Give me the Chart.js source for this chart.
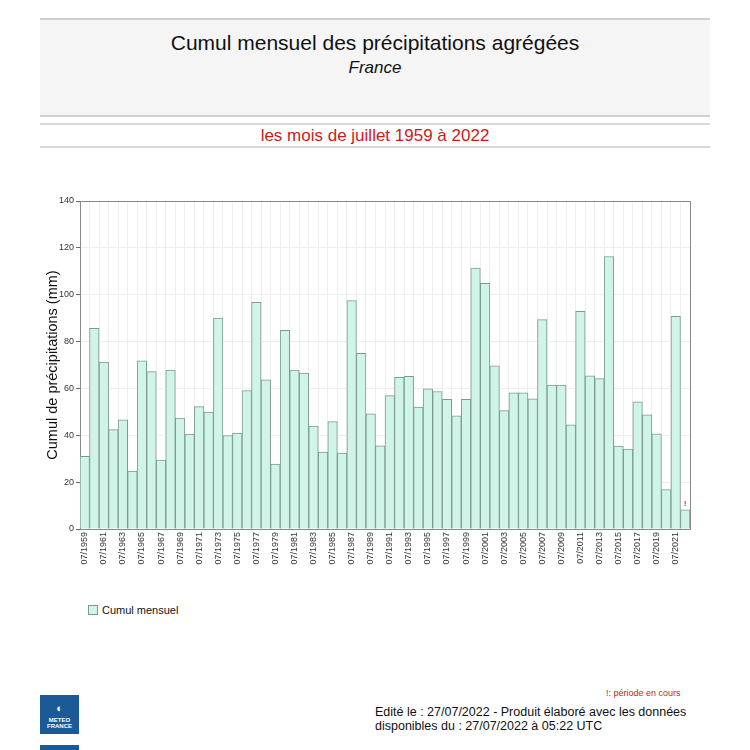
<!DOCTYPE html>
<html>
<head>
<meta charset="utf-8">
<script src="https://cdn.jsdelivr.net/npm/chart.js@4/dist/chart.umd.min.js"></script>
<style>
  body { margin: 0; background: #fff; font-family: "Liberation Sans", Arial, sans-serif; }
  #page { position: relative; width: 750px; height: 750px; overflow: hidden; }
  .abs { position: absolute; }
  #head { left: 40px; top: 18px; width: 670px; height: 95px; background: #f5f5f5;
          border-top: 2px solid #d0d0d0; border-bottom: 2px solid #d0d0d0; }
  #title { left: 0; top: 31px; width: 750px; text-align: center; font-size: 21px; color: #111; }
  #sub { left: 0; top: 58px; width: 750px; text-align: center; font-size: 17px; font-style: italic; color: #111; }
  .rule { left: 40px; width: 670px; height: 0; border-top: 2px solid #d8d8d8; }
  #period { left: 0; top: 126px; width: 750px; text-align: center; font-size: 17px; color: #cc1a1a; }
  #wrap { left: 44px; top: 190px; width: 666px; height: 390px; }
  #legend { left: 88px; top: 604px; font-size: 11px; color: #111; }
  #legend span.box { display: inline-block; width: 8px; height: 8px; background: #d0f5e8;
                     border: 1px solid #7c9a90; margin-right: 4px; vertical-align: -1px; }
  #note { left: 606px; top: 688px; font-size: 9px; color: #cc2222; }
  #edit { left: 375px; top: 705px; font-size: 12.5px; line-height: 14px; color: #111; }
  .logo { left: 40px; width: 39px; height: 39px; background: #1b5a96; color: #fff;
          font-size: 6px; font-weight: bold; text-align: center; line-height: 6px; }
</style>
</head>
<body>
<div id="page">
  <div id="head" class="abs"></div>
  <div id="title" class="abs">Cumul mensuel des précipitations agrégées</div>
  <div id="sub" class="abs">France</div>
  <div class="abs rule" style="top:123px"></div>
  <div id="period" class="abs">les mois de juillet 1959 à 2022</div>
  <div class="abs rule" style="top:146px"></div>

  <div id="wrap" class="abs"><canvas id="precipChart"></canvas></div>

  <div id="legend" class="abs"><span class="box"></span>Cumul mensuel</div>
  <div id="note" class="abs">!: période en cours</div>
  <div id="edit" class="abs">Edité le : 27/07/2022 - Produit élaboré avec les données<br>disponibles du : 27/07/2022 à 05:22 UTC</div>
  <div class="abs logo" style="top:695px"><div style="margin-top:8px;font-size:11px;line-height:11px">&#9680;</div><div style="margin-top:3px">METEO</div><div>FRANCE</div></div>
  <div class="abs logo" style="top:745px"></div>
</div>

<script>
// années 1959 -> 2022, mois de juillet
var years = [];
for (var y = 1959; y <= 2022; y++) {
    years.push("07/" + y);
}

// cumul mensuel (mm)
var cumulMensuel = [
    31.0, 85.7, 71.2, 42.4, 46.6, 24.7, 71.8, 67.2, 29.4, 67.8,
    47.3, 40.5, 52.2, 49.9, 90.0, 39.9, 40.9, 59.1, 96.8, 63.7,
    27.7, 84.8, 67.8, 66.5, 43.9, 32.8, 45.8, 32.4, 97.5, 75.0,
    49.2, 35.5, 56.9, 64.7, 65.2, 52.0, 59.8, 58.7, 55.4, 48.3,
    55.4, 111.4, 104.9, 69.6, 50.5, 58.1, 58.1, 55.6, 89.4, 61.4,
    61.4, 44.5, 92.9, 65.4, 64.2, 116.3, 35.4, 34.1, 54.3, 48.7,
    40.6, 16.8, 90.8, 8.2
];

// dernière période incomplète
var enCours = [63];

var yMax = 140;
var yStep = 20;

var frameAndMark = {
    id: "frameAndMark",
    afterDatasetsDraw: function(chart) {
        var ctx = chart.ctx;
        var a = chart.chartArea;
        ctx.save();
        ctx.strokeStyle = "#8a8a8a";
        ctx.lineWidth = 1;
        ctx.beginPath();
        ctx.moveTo(a.left, a.top + 0.5);
        ctx.lineTo(a.right + 0.5, a.top + 0.5);
        ctx.lineTo(a.right + 0.5, a.bottom);
        ctx.stroke();
        ctx.fillStyle = "#cc2222";
        ctx.font = "bold 7px 'Liberation Sans', Arial";
        ctx.textAlign = "center";
        ctx.textBaseline = "bottom";
        enCours.forEach(function(i) {
            var x = chart.scales.x.getPixelForValue(i);
            var yy = chart.scales.y.getPixelForValue(cumulMensuel[i]);
            ctx.fillText("!", x, yy - 2);
        });
        ctx.restore();
    }
};

var ctx = document.getElementById("precipChart");
var chart = new Chart(ctx, {
    type: "bar",
    data: {
        labels: years,
        datasets: [
            {
                label: "Cumul mensuel",
                data: cumulMensuel,
                backgroundColor: "#d0f5e8",
                borderColor: "#7c9a90",
                borderWidth: 1,
                borderSkipped: "bottom",
                categoryPercentage: 1.0,
                barPercentage: 1.0
            }
        ]
    },
    options: {
        responsive: true,
        maintainAspectRatio: false,
        animation: false,
        layout: { padding: { top: 11, right: 20, left: 0, bottom: 0 } },
        plugins: {
            legend: { display: false },
            tooltip: { enabled: false }
        },
        scales: {
            x: {
                grid: { color: "#eeeeee", offset: true, drawTicks: false },
                border: { color: "#8a8a8a" },
                ticks: {
                    autoSkip: false,
                    maxRotation: 90,
                    minRotation: 90,
                    padding: 3,
                    color: "#333",
                    font: { family: "'Liberation Sans', Arial", size: 9 },
                    callback: function(value, index) {
                        return index % 2 === 0 ? this.getLabelForValue(value) : "";
                    }
                },
                afterFit: function(scale) { scale.height = 51; }
            },
            y: {
                min: 0,
                max: yMax,
                grid: { color: "#eeeeee", tickColor: "#666", tickLength: 4 },
                border: { color: "#8a8a8a" },
                ticks: {
                    stepSize: yStep,
                    padding: 2,
                    color: "#333",
                    font: { family: "'Liberation Sans', Arial", size: 9 }
                },
                title: {
                    display: true,
                    text: "Cumul de précipitations (mm)",
                    color: "#111",
                    padding: { top: 0, bottom: 2 },
                    font: { family: "'Liberation Sans', Arial", size: 14.5 }
                },
                afterFit: function(scale) { scale.width = 36; }
            }
        }
    },
    plugins: [frameAndMark]
});
</script>
</body>
</html>
